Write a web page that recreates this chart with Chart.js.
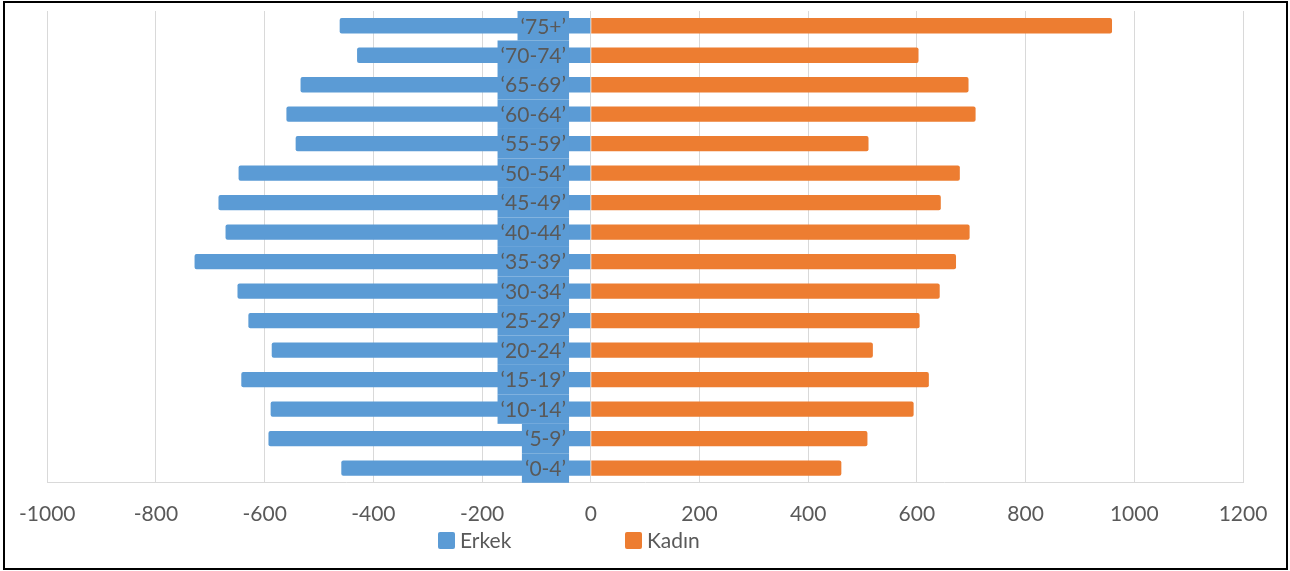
<!DOCTYPE html>
<html>
<head>
<meta charset="utf-8">
<script src="https://cdn.jsdelivr.net/npm/chart.js@4"></script>
<style>
  body { margin: 0; background: #fff; }
</style>
</head>
<body>
<canvas id="pyramid" width="1290" height="571"></canvas>
<script>
// age groups, top to bottom
const ageGroups = ['‘75+’', '‘70-74’', '‘65-69’', '‘60-64’', '‘55-59’', '‘50-54’', '‘45-49’', '‘40-44’',
  '‘35-39’', '‘30-34’', '‘25-29’', '‘20-24’', '‘15-19’', '‘10-14’', '‘5-9’', '‘0-4’'];

// men drawn on the left as negative values
const erkek = [-462, -430, -534, -560, -543, -648, -685, -672, -729, -650, -630, -587, -643, -589, -593, -459];
const kadin = [959, 603, 695, 708, 511, 679, 644, 697, 672, 642, 605, 519, 622, 594, 509, 461];

const xTicks = [-1000, -800, -600, -400, -200, 0, 200, 400, 600, 800, 1000, 1200];

const textColor = '#595959';
const fontFamily = 'Lato, "Open Sans", sans-serif';

// category labels sit on blue boxes just left of zero, like the excel original
const ageLabels = {
  id: 'ageLabels',
  afterDatasetsDraw(chart) {
    const ctx = chart.ctx;
    const x = chart.scales.x;
    const y = chart.scales.y;
    const right = x.getPixelForValue(-40);
    const step = Math.abs(y.getPixelForValue(1) - y.getPixelForValue(0));
    ctx.save();
    ctx.font = '21px ' + fontFamily;
    ctx.textAlign = 'right';
    ctx.textBaseline = 'middle';
    ageGroups.forEach((lbl, i) => {
      const cy = y.getPixelForValue(i);
      const w = ctx.measureText(lbl).width;
      ctx.fillStyle = '#5b9bd5';
      ctx.fillRect(right - w - 6, cy - step / 2, w + 6, step);
    });
    ageGroups.forEach((lbl, i) => {
      const cy = y.getPixelForValue(i);
      ctx.fillStyle = textColor;
      ctx.fillText(lbl, right - 3, cy + 1);
    });
    ctx.restore();
  }
};

// legend + outer frame
const extras = {
  id: 'extras',
  afterDraw(chart) {
    const ctx = chart.ctx;
    ctx.save();
    const spots = [438, 625];
    chart.data.datasets.forEach((ds, i) => {
      ctx.fillStyle = ds.backgroundColor;
      ctx.beginPath();
      ctx.roundRect(spots[i], 532, 17, 17, 2);
      ctx.fill();
      ctx.fillStyle = textColor;
      ctx.font = '21px ' + fontFamily;
      ctx.textBaseline = 'middle';
      ctx.textAlign = 'left';
      ctx.fillText(ds.label, spots[i] + 22, 541);
    });
    ctx.strokeStyle = '#000';
    ctx.lineWidth = 2;
    ctx.strokeRect(4, 2, 1283, 567);
    ctx.restore();
  }
};

new Chart(document.getElementById('pyramid').getContext('2d'), {
  type: 'bar',
  data: {
    labels: ageGroups,
    datasets: [{
      label: 'Erkek',
      data: erkek,
      backgroundColor: '#5b9bd5'
    }, {
      label: 'Kadın',
      data: kadin,
      backgroundColor: '#ed7d31'
    }]
  },
  options: {
    indexAxis: 'y',
    responsive: false,
    animation: false,
    layout: { padding: { left: 47, right: 47, top: 11, bottom: 25 } },
    datasets: {
      bar: { categoryPercentage: 1, barPercentage: 0.52, borderRadius: 2, borderSkipped: 'start' }
    },
    scales: {
      x: {
        stacked: true,
        min: -1000,
        max: 1200,
        afterBuildTicks(scale) {
          scale.ticks = xTicks.map(v => ({ value: v }));
        },
        grid: { color: '#d9d9d9', lineWidth: 1, drawTicks: false },
        border: { display: true, color: '#d9d9d9' },
        ticks: {
          padding: 19,
          color: textColor,
          font: { family: fontFamily, size: 21 },
          maxRotation: 0,
          callback: v => String(v)
        }
      },
      y: {
        stacked: true,
        display: false
      }
    },
    plugins: {
      legend: { display: false },
      tooltip: { enabled: false }
    }
  },
  plugins: [ageLabels, extras]
});
</script>
</body>
</html>
